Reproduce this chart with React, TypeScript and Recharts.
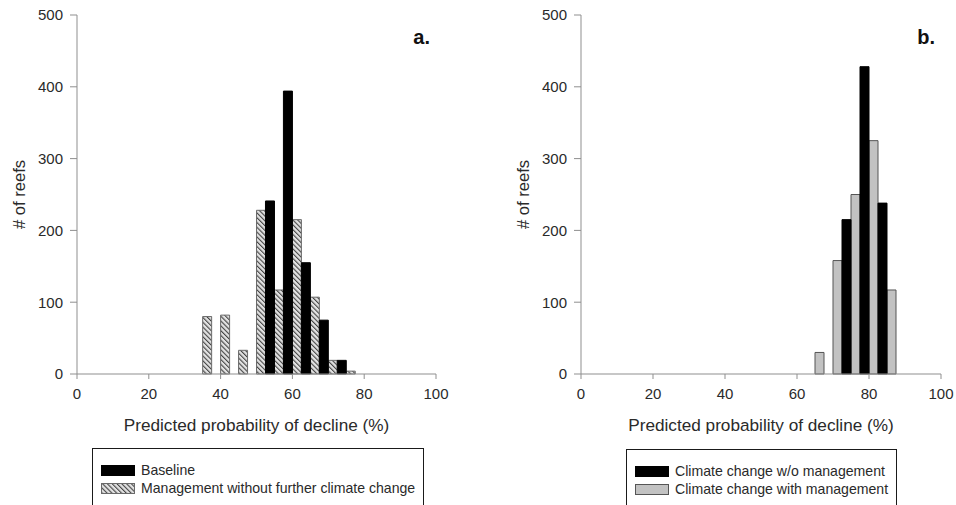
import { Bar, BarChart, Label, XAxis, YAxis } from "recharts";

// Reef counts per 5% bin of predicted decline probability.
// Each bin is split in two: the first series sits in the left half, the second in the right half.
const MGMT_BINS = [35, 40, 45, 50, 55, 60, 65, 70, 75];
const MGMT_REEFS = [80, 82, 33, 228, 117, 215, 107, 19, 4];
const BASELINE_BINS = [50, 55, 60, 65, 70];
const BASELINE_REEFS = [241, 394, 155, 75, 19];

const CC_MGMT_BINS = [65, 70, 75, 80, 85];
const CC_MGMT_REEFS = [30, 158, 250, 325, 117];
const CC_NO_MGMT_BINS = [70, 75, 80];
const CC_NO_MGMT_REEFS = [215, 428, 238];

const X_TICKS = [0, 20, 40, 60, 80, 100];
const Y_TICKS = [0, 100, 200, 300, 400, 500];

const BIN = 5;
const FONT = '"Liberation Sans", Arial, sans-serif';
const AXIS = "#8f8f8f";
const INK = "#2a2a2a";

type Row = { x: number; left?: number; right?: number };

function buildRows(
  leftBins: number[],
  leftVals: number[],
  rightBins: number[],
  rightVals: number[],
): Row[] {
  const rows: Row[] = [
    ...leftBins.map((b, i) => ({ x: b + BIN / 4, left: leftVals[i] })),
    ...rightBins.map((b, i) => ({ x: b + (3 * BIN) / 4, right: rightVals[i] })),
  ];
  return rows.sort((a, b) => a.x - b.x);
}

const rowsA = buildRows(MGMT_BINS, MGMT_REEFS, BASELINE_BINS, BASELINE_REEFS);
const rowsB = buildRows(CC_MGMT_BINS, CC_MGMT_REEFS, CC_NO_MGMT_BINS, CC_NO_MGMT_REEFS);

const tickStyle = { fontSize: 15, fill: INK, fontFamily: FONT };

type SeriesStyle = { name: string; fill: string; stroke: string };

const HATCH: SeriesStyle = { name: "Management without further climate change", fill: "url(#hatch-a)", stroke: "#6a6a6a" };
const BASELINE: SeriesStyle = { name: "Baseline", fill: "#000", stroke: "#000" };
const CC_MGMT: SeriesStyle = { name: "Climate change with management", fill: "#c2c2c2", stroke: "#555" };
const CC_NO_MGMT: SeriesStyle = { name: "Climate change w/o management", fill: "#000", stroke: "#000" };

function HatchDefs({ id }: { id: string }) {
  return (
    <defs>
      <pattern id={id} width="3.4" height="3.4" patternUnits="userSpaceOnUse" patternTransform="rotate(-45)">
        <rect width="3.4" height="3.4" fill="#e2e2e2" />
        <line x1="0" y1="0" x2="0" y2="3.4" stroke="#444" strokeWidth="2.2" />
      </pattern>
    </defs>
  );
}

interface PanelProps {
  rows: Row[];
  left: SeriesStyle;
  right: SeriesStyle;
  tag: string;
  marginLeft: number;
  marginRight: number;
}

function Panel({ rows, left, right, tag, marginLeft, marginRight }: PanelProps) {
  const width = 478;
  const plotRight = width - marginRight;
  return (
    <BarChart
      width={width}
      height={505}
      data={rows}
      barCategoryGap={0}
      margin={{ top: 15, right: marginRight, bottom: 69, left: marginLeft }}
      style={{ fontFamily: FONT }}
    >
      <HatchDefs id="hatch-a" />
      <XAxis
        dataKey="x"
        type="number"
        domain={[0, 100]}
        ticks={X_TICKS}
        interval={0}
        height={62}
        tick={tickStyle}
        tickSize={5}
        tickMargin={9}
        stroke={AXIS}
        tickLine={{ stroke: AXIS }}
      >
        <Label
          value="Predicted probability of decline (%)"
          position="insideBottom"
          offset={5}
          style={{ fontSize: 17.2, fill: INK, fontFamily: FONT }}
        />
      </XAxis>
      <XAxis xAxisId="top" orientation="top" type="number" domain={[0, 100]} height={0} tick={false} tickLine={false} stroke={AXIS} />
      <YAxis
        type="number"
        domain={[0, 500]}
        ticks={Y_TICKS}
        interval={0}
        width={72}
        tick={tickStyle}
        tickSize={7}
        tickMargin={7}
        stroke={AXIS}
        tickLine={{ stroke: AXIS }}
      >
        <Label
          value="# of reefs"
          angle={-90}
          position="insideLeft"
          offset={14}
          style={{ fontSize: 16.6, fill: INK, fontFamily: FONT, textAnchor: "middle" }}
        />
      </YAxis>
      <YAxis yAxisId="right" orientation="right" domain={[0, 500]} width={0} tick={false} tickLine={false} stroke={AXIS} />
      <Bar dataKey="left" name={left.name} stackId="s" fill={left.fill} stroke={left.stroke} strokeWidth={1} isAnimationActive={false} />
      <Bar dataKey="right" name={right.name} stackId="s" fill={right.fill} stroke={right.stroke} strokeWidth={1} isAnimationActive={false} />
      <text x={plotRight - 6} y={44} textAnchor="end" fontSize={20} fontWeight="bold" fill="#111" fontFamily={FONT}>
        {tag}
      </text>
    </BarChart>
  );
}

function Swatch({ style }: { style: SeriesStyle }) {
  return (
    <svg width={34} height={11} style={{ display: "block" }}>
      <HatchDefs id="hatch-legend" />
      <rect
        x={0.5}
        y={0.5}
        width={33}
        height={10}
        fill={style.fill.startsWith("url") ? "url(#hatch-legend)" : style.fill}
        stroke={style.stroke}
      />
    </svg>
  );
}

function LegendBox({ items, left, top, width }: { items: SeriesStyle[]; left: number; top: number; width: number }) {
  return (
    <div
      style={{
        position: "absolute",
        left,
        top,
        width,
        height: 58,
        boxSizing: "border-box",
        border: "1.5px solid #1a1a1a",
        padding: "12px 0 0 8px",
        fontFamily: FONT,
        fontSize: 14.1,
        color: INK,
      }}
    >
      {items.map((it) => (
        <div key={it.name} style={{ display: "flex", alignItems: "center", height: 18 }}>
          <Swatch style={it} />
          <span style={{ marginLeft: 6 }}>{it.name}</span>
        </div>
      ))}
    </div>
  );
}

export default function App() {
  return (
    <div style={{ position: "absolute", left: 0, top: 0, width: 956, height: 505, background: "#fff", overflow: "hidden" }}>
      <div style={{ position: "absolute", left: 0, top: 0 }}>
        <Panel rows={rowsA} left={HATCH} right={BASELINE} tag="a." marginLeft={5} marginRight={42} />
      </div>
      <div style={{ position: "absolute", left: 478, top: 0 }}>
        <Panel rows={rowsB} left={CC_MGMT} right={CC_NO_MGMT} tag="b." marginLeft={31} marginRight={15} />
      </div>
      <LegendBox items={[BASELINE, HATCH]} left={92} top={448} width={332} />
      <LegendBox items={[CC_NO_MGMT, CC_MGMT]} left={626} top={449} width={271} />
    </div>
  );
}
